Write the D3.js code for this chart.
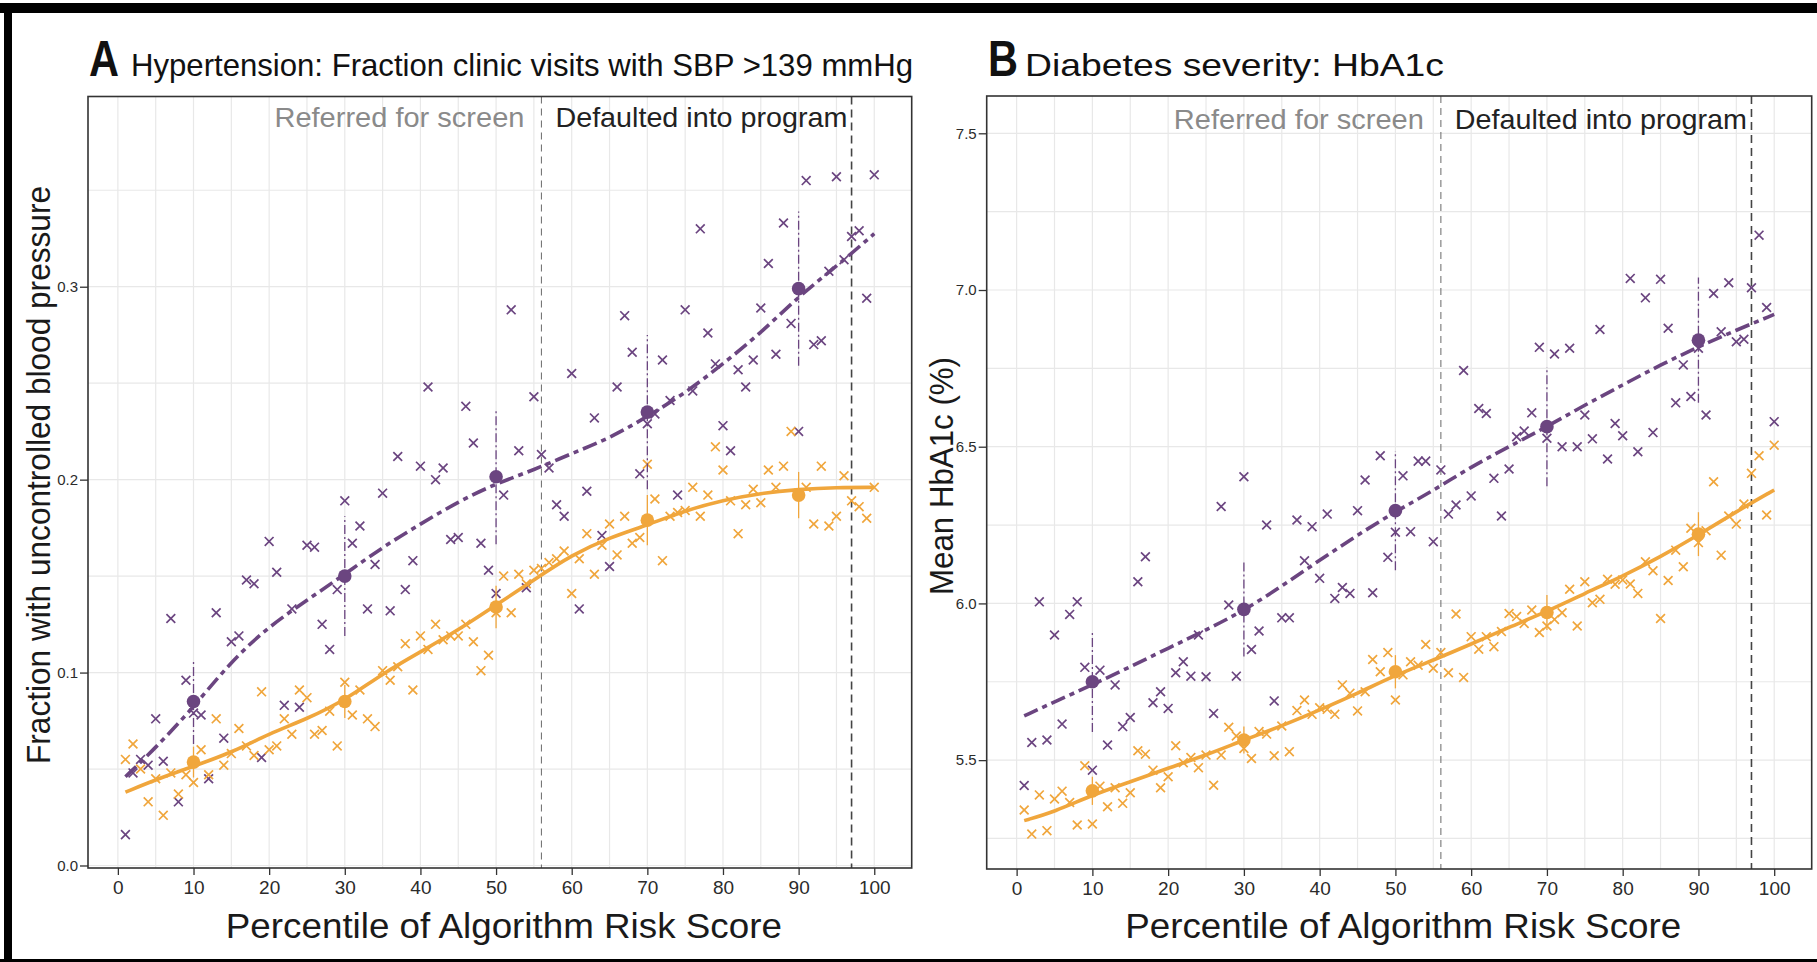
<!DOCTYPE html>
<html>
<head>
<meta charset="utf-8">
<script src="https://cdn.jsdelivr.net/npm/d3@7"></script>
<style>
  body { margin: 0; background: #fff; }
  svg { display: block; font-family: "Liberation Sans", Arial, sans-serif; }
</style>
</head>
<body>
<svg id="fig" width="1817" height="962"></svg>
<script>
// percentile bins of the algorithm risk score
const percentiles = d3.range(1, 101);
const binPct = [10, 30, 50, 70, 90];
const fitPct = [1, 5, 10, 15, 20, 25, 30, 35, 40, 45, 50, 55, 60, 65, 70, 75, 80, 85, 90, 95, 100];
const cutoffs = [56, 97];
const xTicks = [0, 10, 20, 30, 40, 50, 60, 70, 80, 90, 100];

// A: fraction of visits with SBP > 139
const htnBlack = [0.016,0.048,0.055,0.052,0.076,0.054,0.128,0.033,0.096,0.079,
  0.078,0.045,0.131,0.066,0.116,0.119,0.148,0.146,0.056,0.168,
  0.152,0.083,0.133,0.082,0.166,0.165,0.125,0.112,0.143,0.189,
  0.167,0.176,0.133,0.156,0.193,0.132,0.212,0.143,0.158,0.207,
  0.248,0.200,0.206,0.169,0.170,0.238,0.219,0.167,0.153,0.141,
  0.192,0.288,0.215,0.144,0.243,0.213,0.206,0.187,0.181,0.255,
  0.133,0.194,0.232,0.171,0.155,0.248,0.285,0.266,0.203,0.229,
  0.234,0.262,0.241,0.192,0.288,0.246,0.330,0.276,0.260,0.228,
  0.215,0.257,0.248,0.262,0.289,0.312,0.265,0.333,0.281,0.225,
  0.355,0.270,0.272,0.308,0.357,0.314,0.326,0.329,0.294,0.358];
const htnWhite = [0.055,0.063,0.050,0.033,0.045,0.026,0.048,0.037,0.047,0.043,
  0.060,0.047,0.076,0.052,0.058,0.071,0.062,0.057,0.090,0.060,
  0.062,0.076,0.068,0.091,0.087,0.068,0.070,0.080,0.062,0.095,
  0.078,0.091,0.076,0.072,0.101,0.096,0.103,0.115,0.091,0.119,
  0.112,0.125,0.117,0.119,0.119,0.125,0.116,0.101,0.109,0.131,
  0.150,0.131,0.151,0.146,0.153,0.154,0.157,0.159,0.163,0.141,
  0.159,0.172,0.151,0.166,0.177,0.161,0.181,0.167,0.170,0.208,
  0.190,0.158,0.181,0.183,0.184,0.196,0.181,0.192,0.217,0.205,
  0.189,0.172,0.187,0.195,0.188,0.205,0.196,0.207,0.225,0.193,
  0.196,0.177,0.207,0.176,0.181,0.202,0.189,0.186,0.180,0.196];
const htnBlackBin = [0.085, 0.150, 0.2015, 0.235, 0.299];
const htnBlackErr = [0.022, 0.031, 0.035, 0.040, 0.040];
const htnWhiteBin = [0.0536, 0.085, 0.134, 0.179, 0.192];
const htnWhiteErr = [0.008, 0.0085, 0.011, 0.013, 0.012];
const htnBlackFit = [0.046,0.061,0.082,0.106,0.124,0.1375,0.151,0.165,0.177,0.1886,0.198,
  0.205,0.2136,0.2214,0.2327,0.2448,0.260,0.276,0.295,0.3105,0.3275];
const htnWhiteFit = [0.038,0.0445,0.0514,0.0585,0.0683,0.076,0.0856,0.0995,0.1107,0.122,0.135,
  0.148,0.161,0.170,0.1764,0.184,0.1894,0.193,0.195,0.196,0.196];
const htnTicks = [0.0, 0.1, 0.2, 0.3];

// B: mean HbA1c
const a1cBlack = [5.419,5.556,6.005,5.564,5.899,5.615,5.965,6.005,5.796,5.468,
  5.787,5.548,5.740,5.607,5.636,6.069,6.149,5.683,5.718,5.665,
  5.779,5.814,5.768,5.899,5.766,5.649,6.309,5.995,5.768,6.404,
  5.853,5.912,6.250,5.689,5.954,5.954,6.266,6.136,6.245,6.080,
  6.285,6.016,6.051,6.032,6.296,6.394,6.034,6.471,6.147,6.227,
  6.407,6.229,6.454,6.454,6.197,6.426,6.285,6.314,6.743,6.343,
  6.622,6.606,6.399,6.279,6.429,6.532,6.550,6.608,6.817,6.527,
  6.796,6.500,6.814,6.500,6.601,6.525,6.874,6.461,6.574,6.535,
  7.037,6.484,6.975,6.545,7.034,6.878,6.640,6.761,6.660,6.814,
  6.601,6.989,6.867,7.023,6.835,6.843,7.007,7.175,6.944,6.580];
const a1cWhite = [5.341,5.264,5.389,5.275,5.376,5.401,5.365,5.293,5.482,5.296,
  5.417,5.351,5.412,5.362,5.396,5.530,5.519,5.468,5.412,5.447,
  5.546,5.492,5.508,5.476,5.516,5.420,5.516,5.605,5.577,5.537,
  5.505,5.591,5.583,5.514,5.609,5.527,5.658,5.692,5.646,5.667,
  5.662,5.646,5.740,5.713,5.657,5.718,5.821,5.782,5.843,5.692,
  5.772,5.814,5.803,5.869,5.793,5.843,5.779,5.966,5.764,5.894,
  5.854,5.894,5.862,5.910,5.968,5.958,5.936,5.979,5.907,5.928,
  5.949,5.970,6.045,5.928,6.069,6.002,6.013,6.077,6.061,6.075,
  6.062,6.032,6.133,6.104,5.952,6.073,6.170,6.117,6.240,6.194,
  6.232,6.388,6.154,6.279,6.253,6.317,6.415,6.471,6.282,6.505];
const a1cBlackBin = [5.750, 5.981, 6.296, 6.564, 6.840];
const a1cBlackErr = [0.16, 0.15, 0.19, 0.19, 0.20];
const a1cWhiteBin = [5.402, 5.564, 5.782, 5.971, 6.221];
const a1cWhiteErr = [0.045, 0.043, 0.053, 0.056, 0.07];
const a1cBlackFit = [5.641,5.686,5.740,5.798,5.857,5.915,5.977,6.055,6.138,6.218,6.293,
  6.360,6.436,6.500,6.564,6.633,6.697,6.761,6.819,6.872,6.922];
const a1cWhiteFit = [5.307,5.335,5.389,5.431,5.474,5.516,5.564,5.609,5.660,5.713,5.771,
  5.819,5.870,5.924,5.974,6.032,6.087,6.149,6.218,6.293,6.362];
const a1cTicks = [5.5, 6.0, 6.5, 7.0, 7.5];

const purple = "#6b4580";
const orange = "#f0a63c";

const svg = d3.select("#fig");
svg.append("rect").attr("width", 1817).attr("height", 962).attr("fill", "#fff");
// black frame of the source page
svg.append("rect").attr("x", 0).attr("y", 3).attr("width", 1817).attr("height", 10).attr("fill", "#000");
svg.append("rect").attr("x", 4).attr("y", 3).attr("width", 8).attr("height", 959).attr("fill", "#000");
svg.append("rect").attr("x", 0).attr("y", 959).attr("width", 1817).attr("height", 3).attr("fill", "#000");

function drawPanel(p) {
    const x = d3.scaleLinear().domain([-3.95, 104.95]).range([p.left, p.right]);
    const y = d3.scaleLinear().domain(p.yDomain).range([p.bottom, p.top]);
    const g = svg.append("g");

    // grid, major and minor
    const xGrid = d3.range(0, 101, 5);
    g.selectAll(".gx").data(xGrid).enter().append("line")
        .attr("x1", d => x(d)).attr("x2", d => x(d))
        .attr("y1", p.top).attr("y2", p.bottom)
        .attr("stroke", "#e8e8e8").attr("stroke-width", 1.2);
    g.selectAll(".gy").data(p.yGrid).enter().append("line")
        .attr("x1", p.left).attr("x2", p.right)
        .attr("y1", d => y(d)).attr("y2", d => y(d))
        .attr("stroke", "#e8e8e8").attr("stroke-width", 1.2);

    // program cutoffs
    g.append("line")
        .attr("x1", x(cutoffs[0])).attr("x2", x(cutoffs[0]))
        .attr("y1", p.top).attr("y2", p.bottom)
        .attr("stroke", "#777").attr("stroke-width", 1.1).attr("stroke-dasharray", "7,5");
    g.append("line")
        .attr("x1", x(cutoffs[1])).attr("x2", x(cutoffs[1]))
        .attr("y1", p.top).attr("y2", p.bottom)
        .attr("stroke", "#444").attr("stroke-width", 1.6).attr("stroke-dasharray", "8,5");

    g.append("text")
        .attr("x", x(cutoffs[0]) - 17).attr("y", p.labelY)
        .attr("text-anchor", "end").attr("font-size", 28).attr("fill", "#8a8a8a")
        .attr("textLength", 250).attr("lengthAdjust", "spacingAndGlyphs")
        .text("Referred for screen");
    g.append("text")
        .attr("x", x(cutoffs[0]) + 14).attr("y", p.labelY)
        .attr("font-size", 28).attr("fill", "#222")
        .attr("textLength", 292).attr("lengthAdjust", "spacingAndGlyphs")
        .text("Defaulted into program");

    // per-percentile crosses
    function crosses(vals, color) {
        const s = 4.4;
        g.selectAll(null).data(vals).enter().append("path")
            .attr("d", (d, i) => {
                const cx = x(percentiles[i]), cy = y(d);
                return `M${cx - s},${cy - s}L${cx + s},${cy + s}M${cx - s},${cy + s}L${cx + s},${cy - s}`;
            })
            .attr("stroke", color).attr("stroke-width", 1.7).attr("fill", "none");
    }
    crosses(p.black, purple);
    crosses(p.white, orange);

    // fitted curves
    const line = d3.line().x((d, i) => x(fitPct[i])).y(d => y(d)).curve(d3.curveBasis);
    g.append("path").attr("d", line(p.whiteFit))
        .attr("fill", "none").attr("stroke", orange).attr("stroke-width", 3.6);
    g.append("path").attr("d", line(p.blackFit))
        .attr("fill", "none").attr("stroke", purple).attr("stroke-width", 3.6)
        .attr("stroke-dasharray", "15,5,5,5");

    // binned means with error bars
    function bins(means, errs, color, dash) {
        g.selectAll(null).data(means).enter().append("line")
            .attr("x1", (d, i) => x(binPct[i])).attr("x2", (d, i) => x(binPct[i]))
            .attr("y1", (d, i) => y(d - errs[i])).attr("y2", (d, i) => y(d + errs[i]))
            .attr("stroke", color).attr("stroke-width", 1.3)
            .attr("stroke-dasharray", dash);
        g.selectAll(null).data(means).enter().append("circle")
            .attr("cx", (d, i) => x(binPct[i])).attr("cy", d => y(d))
            .attr("r", 6.8).attr("fill", color);
    }
    bins(p.whiteBin, p.whiteErr, orange, null);
    bins(p.blackBin, p.blackErr, purple, "9,3,2,3");

    // frame
    g.append("rect").attr("x", p.left).attr("y", p.top)
        .attr("width", p.right - p.left).attr("height", p.bottom - p.top)
        .attr("fill", "none").attr("stroke", "#333").attr("stroke-width", 1.6);

    // axes
    const xAxis = g.append("g").attr("transform", `translate(0,${p.bottom})`)
        .call(d3.axisBottom(x).tickValues(xTicks).tickSize(7).tickPadding(6));
    xAxis.select(".domain").remove();
    xAxis.selectAll("line").attr("stroke", "#333").attr("stroke-width", 1.3);
    xAxis.selectAll("text").attr("font-size", 19).attr("fill", "#2b2b2b")
        .attr("font-family", "Liberation Sans, Arial, sans-serif");

    const yAxis = g.append("g").attr("transform", `translate(${p.left},0)`)
        .call(d3.axisLeft(y).tickValues(p.yTicks).tickFormat(d3.format(".1f")).tickSize(8).tickPadding(2));
    yAxis.select(".domain").remove();
    yAxis.selectAll("line").attr("stroke", "#333").attr("stroke-width", 1.3);
    yAxis.selectAll("text").attr("font-size", 15).attr("fill", "#2b2b2b")
        .attr("font-family", "Liberation Sans, Arial, sans-serif");

    // axis titles
    g.append("text")
        .attr("x", (p.left + p.right) / 2 + 4).attr("y", 938)
        .attr("text-anchor", "middle").attr("font-size", 35).attr("fill", "#1a1a1a")
        .attr("textLength", 556).attr("lengthAdjust", "spacingAndGlyphs")
        .text("Percentile of Algorithm Risk Score");
    g.append("text")
        .attr("transform", `translate(${p.yTitleX},${p.yTitleY}) rotate(-90)`)
        .attr("text-anchor", "middle").attr("font-size", 34).attr("fill", "#1a1a1a")
        .attr("textLength", p.yTitleLen).attr("lengthAdjust", "spacingAndGlyphs")
        .text(p.yTitle);

    // panel title
    g.append("text").attr("x", p.letterX).attr("y", 76)
        .attr("font-size", 50).attr("font-weight", "bold").attr("fill", "#111")
        .attr("textLength", 30).attr("lengthAdjust", "spacingAndGlyphs")
        .text(p.letter);
    g.append("text").attr("x", p.titleX).attr("y", 76)
        .attr("font-size", 32).attr("fill", "#111")
        .attr("textLength", p.titleLen).attr("lengthAdjust", "spacingAndGlyphs")
        .text(p.title);
}

drawPanel({
    left: 88, right: 911.7, top: 96.5, bottom: 868,
    yDomain: [-0.0013, 0.3986],
    yGrid: [0, 0.05, 0.1, 0.15, 0.2, 0.25, 0.3, 0.35],
    yTicks: htnTicks,
    black: htnBlack, white: htnWhite,
    blackFit: htnBlackFit, whiteFit: htnWhiteFit,
    blackBin: htnBlackBin, blackErr: htnBlackErr,
    whiteBin: htnWhiteBin, whiteErr: htnWhiteErr,
    labelY: 127,
    yTitle: "Fraction with uncontrolled blood pressure", yTitleX: 49.5, yTitleY: 475, yTitleLen: 578,
    letter: "A", letterX: 89,
    title: "Hypertension: Fraction clinic visits with SBP >139 mmHg", titleX: 131, titleLen: 782
});

drawPanel({
    left: 986.7, right: 1811.7, top: 96, bottom: 869,
    yDomain: [5.1526, 7.619],
    yGrid: [5.25, 5.5, 5.75, 6.0, 6.25, 6.5, 6.75, 7.0, 7.25, 7.5],
    yTicks: a1cTicks,
    black: a1cBlack, white: a1cWhite,
    blackFit: a1cBlackFit, whiteFit: a1cWhiteFit,
    blackBin: a1cBlackBin, blackErr: a1cBlackErr,
    whiteBin: a1cWhiteBin, whiteErr: a1cWhiteErr,
    labelY: 129,
    yTitle: "Mean HbA1c (%)", yTitleX: 953, yTitleY: 476, yTitleLen: 238,
    letter: "B", letterX: 988,
    title: "Diabetes severity: HbA1c", titleX: 1025, titleLen: 419
});
</script>
</body>
</html>
